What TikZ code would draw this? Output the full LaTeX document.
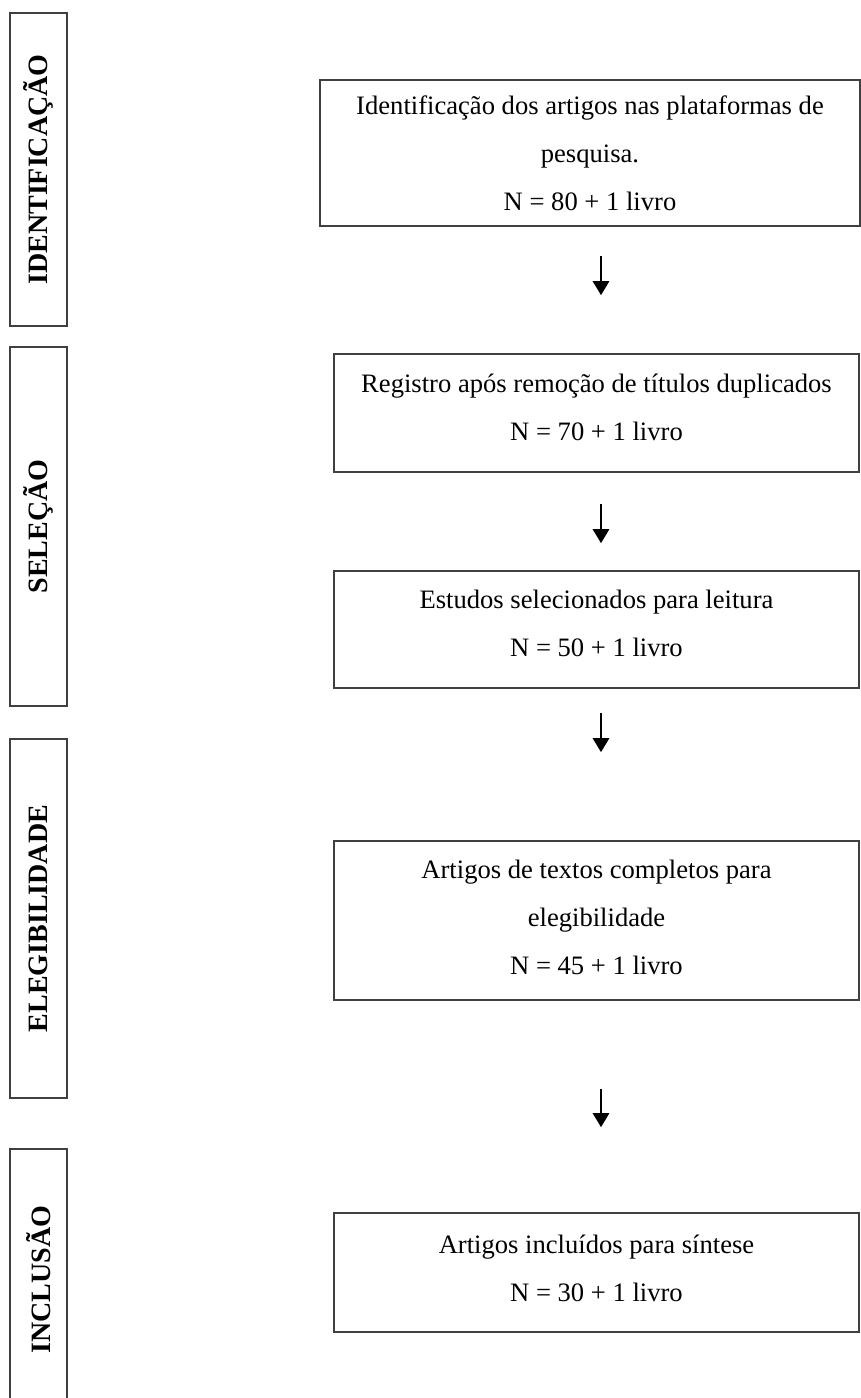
\documentclass[tikz,border=0pt]{standalone}
\usepackage{fontspec}
\setmainfont{Liberation Serif}
\usetikzlibrary{arrows.meta}
\begin{document}
\begin{tikzpicture}[x = .5pt, y = -.5pt,
    caixa/.style = {draw = black!75, line width = .8pt, minimum width = 262.5pt,
      align = center, font = \fontsize{13.3}{24}\selectfont},
    fase/.style = {draw = black!75, line width = .8pt, rotate = 90,
      minimum height = 28.5pt, font = \fontsize{14}{16}\selectfont\bfseries},
    seta/.style = {-{Triangle[width = 8pt, length = 7pt]}, line width = 1.4pt}]
  \useasboundingbox (0,0) rectangle (861,1398);
  \node [fase, minimum width = 156.5pt] (f1) at (38.5,169.5) {IDENTIFICAÇÃO};
  \node [fase, minimum width = 179.5pt] (f2) at (38.5,526.5) {SELEÇÃO};
  \node [fase, minimum width = 179.5pt] (f3) at (38.5,918.5) {ELEGIBILIDADE};
  \node [fase, minimum width = 130.5pt] (f4) at (38.5,1279.5) {INCLUSÃO};
  \node [caixa, minimum width = 270pt, minimum height = 73pt] (b1) at (590,153)
    {Identificação dos artigos nas plataformas de\\ pesquisa.\\ N = 80 + 1 livro};
  \node [caixa, minimum height = 59pt, text depth = 5.5pt] (b2) at (596.5,413)
    {Registro após remoção de títulos duplicados\\ N = 70 + 1 livro};
  \node [caixa, minimum height = 58.5pt, text depth = 6.5pt] (b3) at (596.5,629.5)
    {Estudos selecionados para leitura\\ N = 50 + 1 livro};
  \node [caixa, minimum height = 79.5pt, text depth = 3pt] (b4) at (596.5,920.5)
    {Artigos de textos completos para\\ elegibilidade\\ N = 45 + 1 livro};
  \node [caixa, minimum height = 59.5pt, text depth = 4pt] (b5) at (596.5,1272.5)
    {Artigos incluídos para síntese\\ N = 30 + 1 livro};
  \coordinate (eixo) at (601,0);
  \draw [seta, shorten < = 14.5pt, shorten > = 29pt] (b1.south -| eixo) -- (b2.north -| eixo);
  \draw [seta, shorten < = 15.5pt, shorten > = 13.5pt] (b2.south -| eixo) -- (b3.north -| eixo);
  \draw [seta, shorten < = 12pt, shorten > = 44pt] (b3.south -| eixo) -- (b4.north -| eixo);
  \draw [seta, shorten < = 44pt, shorten > = 42.5pt] (b4.south -| eixo) -- (b5.north -| eixo);
\end{tikzpicture}
\end{document}
